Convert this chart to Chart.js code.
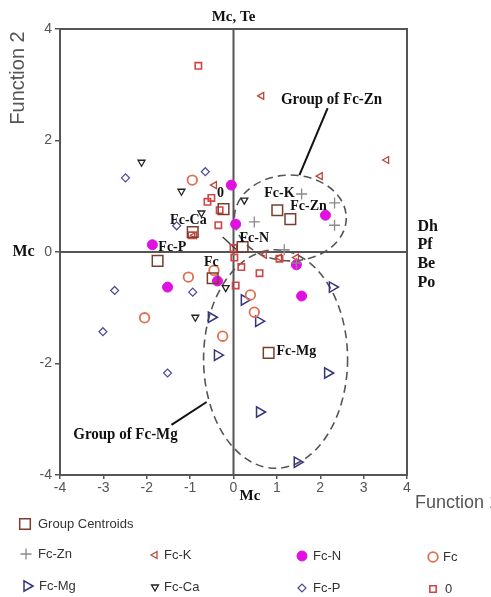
<!DOCTYPE html>
<html><head><meta charset="utf-8">
<script src="https://cdn.jsdelivr.net/npm/chart.js@4"></script>
<style>html,body{margin:0;padding:0;background:#fff;}canvas{display:block;}</style>
</head><body>
<canvas id="c" width="491" height="597"></canvas>
<script>
// ---- tick labels ----
const xTickValues = [-4, -3, -2, -1, 0, 1, 2, 3, 4];
const yTickValues = [-4, -2, 0, 2, 4];

// ---- series (Function 1 = x, Function 2 = y) ----
const centroidNames = ['Fc-K', 'Fc-Zn', 'Fc-Ca', '0', 'Fc-N', 'Fc-P', 'Fc', 'Fc-Mg'];
const centroidX = [1.01, 1.31, -0.94, -0.23, 0.21, -1.75, -0.48, 0.81];
const centroidY = [0.75, 0.59, 0.36, 0.77, 0.09, -0.16, -0.47, -1.81];

const fcZnX = [1.57, 2.33, 2.33, 0.48, 1.17, 1.45];
const fcZnY = [1.04, 0.88, 0.48, 0.54, 0.04, -0.20];

const fcKX = [0.65, 3.53, 2.00, -0.44, 0.71, 1.06, 1.45, -0.90];
const fcKY = [2.80, 1.65, 1.36, 1.20, -0.05, -0.10, -0.10, 0.30];

const fcNX = [-0.05, 0.05, -1.87, -1.52, -0.37, 1.45, 1.57, 2.12];
const fcNY = [1.20, 0.50, 0.13, -0.63, -0.52, -0.23, -0.79, 0.66];

const fcX = [-1.04, -2.05, -0.25, 0.39, 0.48, -0.95, -0.45];
const fcY = [-0.45, -1.18, -1.51, -0.77, -1.08, 1.29, -0.33];

const fcMgX = [2.28, 0.25, 0.58, -0.51, -0.37, 2.17, 0.60, 1.47];
const fcMgY = [-0.63, -0.86, -1.24, -1.17, -1.85, -2.17, -2.87, -3.77];

const fcCaX = [-2.12, -1.20, -0.74, 0.25, -0.88, -0.18];
const fcCaY = [1.61, 1.09, 0.70, 0.93, -1.17, -0.64];

const fcPX = [-2.49, -0.65, -1.31, -2.74, -3.01, -0.94, -1.52];
const fcPY = [1.33, 1.44, 0.47, -0.69, -1.43, -0.72, -2.17];

const zeroX = [-0.81, -0.60, -0.51, -0.32, -0.35, -0.97, 0.00, 0.02, 0.18, 0.05, 1.06, 0.60];
const zeroY = [3.34, 0.90, 0.97, 0.75, 0.48, 0.30, 0.07, -0.10, -0.27, -0.60, -0.12, -0.38];

// ---- annotation anchors (data units) ----
const groupLabelX = [1.06, 1.73, -1.04, -0.30, 0.48, -1.41, -0.51, 1.45];
const groupLabelY = [1.06, 0.81, 0.57, 1.06, 0.25, 0.09, -0.18, -1.78];
const ellipseZn = {cx: 1.31, cy: 0.61, rx: 1.29, ry: 0.77};
const ellipseMg = {cx: 0.97, cy: -1.92, rx: 1.66, ry: 1.96};

function pts(xs, ys) { return xs.map((x, i) => ({x: x, y: ys[i]})); }

const datasets = [
  {label: 'Group Centroids', data: pts(centroidX, centroidY), pointStyle: 'rect', pointRadius: 7.5, borderColor: '#7a3e2e', backgroundColor: 'rgba(255,255,255,0)', borderWidth: 1.5, pointRotation: 0},
  {label: 'Fc-Zn', data: pts(fcZnX, fcZnY), pointStyle: 'cross', pointRadius: 5.5, borderColor: '#8a8a8a', backgroundColor: '#8a8a8a', borderWidth: 1.3, pointRotation: 0},
  {label: 'Fc-K', data: pts(fcKX, fcKY), pointStyle: 'triangle', pointRotation: 270, pointRadius: 4, borderColor: '#b8483a', backgroundColor: 'rgba(255,255,255,0)', borderWidth: 1.3},
  {label: 'Fc-N', data: pts(fcNX, fcNY), pointStyle: 'circle', pointRadius: 5, borderColor: '#e010e0', backgroundColor: '#e010e0', borderWidth: 1, pointRotation: 0},
  {label: 'Fc', data: pts(fcX, fcY), pointStyle: 'circle', pointRadius: 4.8, borderColor: '#e07050', backgroundColor: 'rgba(255,255,255,0)', borderWidth: 1.8, pointRotation: 0},
  {label: 'Fc-Mg', data: pts(fcMgX, fcMgY), pointStyle: 'triangle', pointRotation: 90, pointRadius: 6, borderColor: '#33337f', backgroundColor: 'rgba(255,255,255,0)', borderWidth: 1.5},
  {label: 'Fc-Ca', data: pts(fcCaX, fcCaY), pointStyle: 'triangle', pointRotation: 180, pointRadius: 4, borderColor: '#222222', backgroundColor: 'rgba(255,255,255,0)', borderWidth: 1.3},
  {label: 'Fc-P', data: pts(fcPX, fcPY), pointStyle: 'rectRot', pointRadius: 4, borderColor: '#4a4a9a', backgroundColor: 'rgba(255,255,255,0)', borderWidth: 1.2, pointRotation: 0},
  {label: '0', data: pts(zeroX, zeroY), pointStyle: 'rect', pointRadius: 4.5, borderColor: '#d04545', backgroundColor: 'rgba(255,255,255,0)', borderWidth: 1.6, pointRotation: 0}
];

const legendLayout = [
  {ds: 0, mx: 25, tx: 38, y: 524},
  {ds: 1, mx: 26, tx: 38, y: 554},
  {ds: 2, mx: 155, tx: 164, y: 555},
  {ds: 3, mx: 302, tx: 313, y: 556},
  {ds: 4, mx: 433, tx: 443, y: 557},
  {ds: 5, mx: 27, tx: 39, y: 586},
  {ds: 6, mx: 155, tx: 164, y: 587},
  {ds: 7, mx: 302, tx: 313, y: 588},
  {ds: 8, mx: 433, tx: 445, y: 589}
];

const AXIS = '#555555';

const decor = {
  id: 'decor',
  beforeDatasetsDraw(chart) {
    const {ctx, chartArea: a, scales: {x, y}} = chart;
    ctx.save();
    ctx.strokeStyle = AXIS; ctx.lineWidth = 2;
    ctx.beginPath();
    ctx.moveTo(x.getPixelForValue(0), a.top); ctx.lineTo(x.getPixelForValue(0), a.bottom);
    ctx.moveTo(a.left, y.getPixelForValue(0)); ctx.lineTo(a.right, y.getPixelForValue(0));
    ctx.stroke();
    ctx.strokeRect(a.left, a.top, a.right - a.left, a.bottom - a.top);
    ctx.setLineDash([8, 5]);
    ctx.lineWidth = 1.6; ctx.strokeStyle = '#555';
    [ellipseZn, ellipseMg].forEach(e => {
      const cx = x.getPixelForValue(e.cx), cy = y.getPixelForValue(e.cy);
      const rx = Math.abs(x.getPixelForValue(e.cx + e.rx) - cx);
      const ry = Math.abs(y.getPixelForValue(e.cy + e.ry) - cy);
      ctx.beginPath(); ctx.ellipse(cx, cy, rx, ry, 0, 0, Math.PI * 2); ctx.stroke();
    });
    ctx.setLineDash([]);
    ctx.strokeStyle = '#111'; ctx.lineWidth = 2;
    const seg = (x1, y1, x2, y2) => {
      ctx.beginPath();
      ctx.moveTo(x.getPixelForValue(x1), y.getPixelForValue(y1));
      ctx.lineTo(x.getPixelForValue(x2), y.getPixelForValue(y2));
      ctx.stroke();
    };
    seg(2.17, 2.58, 1.52, 1.38);
    seg(-1.43, -3.10, -0.62, -2.69);
    ctx.lineWidth = 1.2; ctx.strokeStyle = '#333';
    seg(-0.25, 0.27, 0.07, 0.04);
    ctx.restore();
  },
  afterDatasetsDraw(chart) {
    const {ctx, scales: {x, y}} = chart;
    ctx.save();
    ctx.fillStyle = '#111';
    ctx.textBaseline = 'middle';
    const txt = (s, vx, vy, font, align) => {
      ctx.font = font; ctx.textAlign = align || 'center';
      ctx.fillText(s, x.getPixelForValue(vx), y.getPixelForValue(vy));
    };
    centroidNames.forEach((n, i) => txt(n, groupLabelX[i], groupLabelY[i], 'bold 14px "Liberation Serif"'));
    txt('Mc, Te', 0, 4.22, 'bold 15px "Liberation Serif"');
    txt('Mc', -4.84, 0, 'bold 16px "Liberation Serif"', 'center');
    txt('Mc', 0.14, -4.38, 'bold 15px "Liberation Serif"', 'left');
    const rightNames = ['Dh', 'Pf', 'Be', 'Po'];
    const rightY = [0.45, 0.13, -0.22, -0.56];
    rightNames.forEach((n, i) => txt(n, 4.24, rightY[i], 'bold 16px "Liberation Serif"', 'left'));
    const cond = (s, vx, vy) => {
      ctx.save();
      ctx.translate(x.getPixelForValue(vx), y.getPixelForValue(vy));
      ctx.scale(0.88, 1);
      ctx.font = 'bold 17px "Liberation Serif"'; ctx.textAlign = 'center';
      ctx.fillText(s, 0, 0);
      ctx.restore();
    };
    cond('Group of Fc-Zn', 2.26, 2.73);
    cond('Group of Fc-Mg', -2.49, -3.28);
    ctx.restore();
  },
  afterDraw(chart) {
    const {ctx} = chart;
    ctx.save();
    ctx.fillStyle = '#555';
    ctx.textBaseline = 'middle'; ctx.textAlign = 'left';
    ctx.font = '18px "Liberation Sans"';
    ctx.fillText('Function 1', 415, 503);
    ctx.save();
    ctx.font = '20px "Liberation Sans"';
    ctx.translate(18, 78); ctx.rotate(-Math.PI / 2);
    ctx.textAlign = 'center';
    ctx.fillText('Function 2', 0, 0);
    ctx.restore();
    ctx.font = '13px "Liberation Sans"';
    legendLayout.forEach(L => {
      const d = chart.data.datasets[L.ds];
      ctx.strokeStyle = d.borderColor; ctx.fillStyle = d.backgroundColor;
      ctx.lineWidth = d.borderWidth;
      Chart.helpers.drawPoint(ctx, {pointStyle: d.pointStyle, radius: d.pointRadius, rotation: d.pointRotation || 0, borderWidth: d.borderWidth}, L.mx, L.y);
      ctx.fillStyle = '#333';
      ctx.textAlign = 'left'; ctx.textBaseline = 'middle';
      ctx.fillText(d.label, L.tx, L.y);
    });
    ctx.restore();
  }
};

new Chart(document.getElementById('c'), {
  type: 'scatter',
  data: {datasets: datasets},
  options: {
    responsive: false,
    devicePixelRatio: 1,
    animation: false,
    layout: {padding: {left: 0, top: 29, right: 84, bottom: 92}},
    plugins: {legend: {display: false}, tooltip: {enabled: false}},
    scales: {
      x: {
        type: 'linear', min: -4, max: 4,
        afterBuildTicks: s => { s.ticks = xTickValues.map(v => ({value: v})); },
        afterFit: s => { s.height = 30; },
        ticks: {color: '#555', font: {family: 'Liberation Sans', size: 14}, padding: 1, maxRotation: 0},
        grid: {drawOnChartArea: false, tickLength: 4, color: AXIS, lineWidth: 1.5},
        border: {display: false}
      },
      y: {
        type: 'linear', min: -4, max: 4,
        afterBuildTicks: s => { s.ticks = yTickValues.map(v => ({value: v})); },
        afterFit: s => { s.width = 60; },
        ticks: {color: '#555', font: {family: 'Liberation Sans', size: 14}, padding: 3},
        grid: {drawOnChartArea: false, tickLength: 5, color: AXIS, lineWidth: 1.5},
        border: {display: false}
      }
    }
  },
  plugins: [decor]
});
</script>
</body></html>
